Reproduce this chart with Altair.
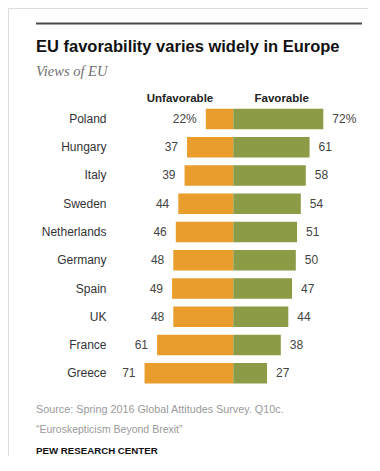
import altair as alt
import pandas as pd

countries = ["Poland", "Hungary", "Italy", "Sweden", "Netherlands",
             "Germany", "Spain", "UK", "France", "Greece"]
unfavorable = [22, 37, 39, 44, 46, 48, 49, 48, 61, 71]
favorable = [72, 61, 58, 54, 51, 50, 47, 44, 38, 27]

title_text = "EU favorability varies widely in Europe"
subtitle_text = "Views of EU"
header_unfav = "Unfavorable"
header_fav = "Favorable"
source_text = "Source: Spring 2016 Global Attitudes Survey. Q10c."
report_text = "\u201cEuroskepticism Beyond Brexit\u201d"
org_text = "PEW RESEARCH CENTER"

ORANGE = "#E99D2D"
GREEN = "#8B9B46"
FONT = "Liberation Sans"

rows = []
for i, (c, u, f) in enumerate(zip(countries, unfavorable, favorable)):
    rows.append({
        "country": c, "row": i, "unfav": u, "fav": f,
        "neg": -u, "zero": 0,
        "ulab": f"{u}%" if i == 0 else str(u),
        "flab": f"{f}%" if i == 0 else str(f),
    })
df = pd.DataFrame(rows)

W, H = 360, 448
xs = alt.Scale(domain=[-180.24, 107.76], nice=False, zero=False)
ys = alt.Scale(domain=[-3.929, 11.929], nice=False, zero=False, reverse=True)

base = alt.Chart(df).transform_calculate(
    y0="datum.row - 0.363", y1="datum.row + 0.363"
)

bar_u = base.mark_bar(color=ORANGE).encode(
    x=alt.X("neg:Q", scale=xs, axis=None),
    x2="zero:Q",
    y=alt.Y("y0:Q", scale=ys, axis=None),
    y2="y1:Q",
)
bar_f = base.mark_bar(color=GREEN).encode(
    x=alt.X("zero:Q", scale=xs, axis=None),
    x2="fav:Q",
    y=alt.Y("y0:Q", scale=ys, axis=None),
    y2="y1:Q",
)
lab_u = base.mark_text(align="right", baseline="middle", dx=-9, font=FONT,
                       fontSize=12, color="#444").encode(
    x=alt.X("neg:Q", scale=xs, axis=None),
    y=alt.Y("row:Q", scale=ys, axis=None),
    text="ulab:N",
)
lab_f = base.mark_text(align="left", baseline="middle", dx=9, font=FONT,
                       fontSize=12, color="#444").encode(
    x=alt.X("fav:Q", scale=xs, axis=None),
    y=alt.Y("row:Q", scale=ys, axis=None),
    text="flab:N",
)
lab_c = base.mark_text(align="right", baseline="middle", font=FONT,
                       fontSize=12, color="#333").encode(
    x=alt.value(98.5),
    y=alt.Y("row:Q", scale=ys, axis=None),
    text="country:N",
)


def deco(text, x, y, **kw):
    d = pd.DataFrame({"t": [text]})
    return alt.Chart(d).mark_text(align=kw.pop("align", "left"),
                                  baseline="alphabetic", **kw).encode(
        x=alt.value(x), y=alt.value(y), text="t:N")


top_rule = alt.Chart(pd.DataFrame({"a": [0]})).mark_rule(
    color="#4a4a4a", strokeWidth=2).encode(
    x=alt.value(28), x2=alt.value(354), y=alt.value(15.5))

title = deco(title_text, 28, 43.7, font=FONT, fontSize=16.5,
             fontWeight="bold", color="#111")
subtitle = deco(subtitle_text, 28, 67.5, font="Liberation Serif",
                fontSize=14.5, fontStyle="italic", color="#707070")
h_u = deco(header_unfav, 172, 94, align="center", font=FONT, fontSize=11.5,
           fontWeight="bold", color="#222")
h_f = deco(header_fav, 273.7, 94, align="center", font=FONT, fontSize=11.5,
           fontWeight="bold", color="#222")
src = deco(source_text, 28, 405.3, font=FONT, fontSize=10.8, color="#9a9a9a")
rep = deco(report_text, 28, 425.3, font=FONT, fontSize=10.5, color="#9a9a9a")
org = deco(org_text, 28, 446, font=FONT, fontSize=9.7, fontWeight="bold",
           color="#111")

chart = alt.layer(
    top_rule, bar_u, bar_f, lab_u, lab_f, lab_c,
    title, subtitle, h_u, h_f, src, rep, org
).properties(
    width=W, height=H, padding=0, autosize=alt.AutoSizeParams(type="none")
).configure_view(strokeWidth=0).configure(background="white")

chart.save("out.html", embed_options={"renderer": "svg", "actions": False})
